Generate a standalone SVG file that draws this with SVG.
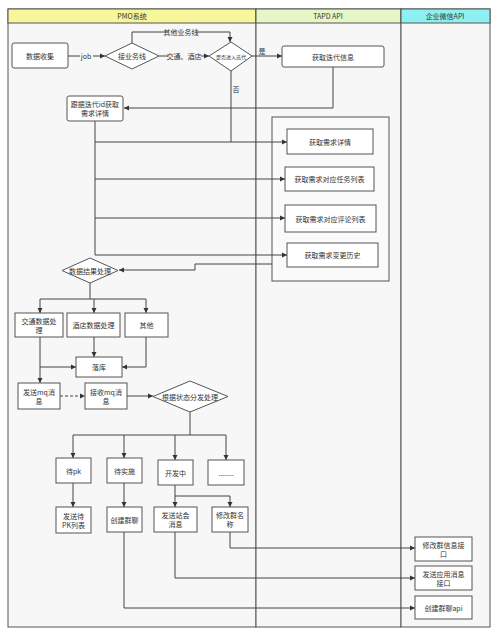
<svg xmlns="http://www.w3.org/2000/svg" width="499" height="637" viewBox="0 0 499 637">
<defs>
<marker id="ah" markerWidth="6" markerHeight="6" refX="5" refY="3" orient="auto" markerUnits="userSpaceOnUse">
<path d="M0,0.5 L5,3 L0,5.5 z" fill="#333"/>
</marker>
<style>
.lane{fill:#f7f7f7;stroke:#555;stroke-width:1}
.hdr{stroke:#555;stroke-width:1}
.box{fill:#fff;stroke:#555;stroke-width:1}
.t{font-family:"Noto Sans CJK SC","Liberation Sans",sans-serif;font-size:7px;fill:#333;text-anchor:middle;dominant-baseline:central}
.c{fill:none;stroke:#444;stroke-width:1}
.a{marker-end:url(#ah)}
</style>
</defs>
<rect x="0" y="0" width="499" height="637" fill="#fff"/>
<g id="lanes">
<rect class="lane" x="8" y="9" width="248" height="618"/>
<rect class="hdr" x="8" y="9" width="248" height="14" fill="#f6f69a"/>
<text class="t" x="132" y="16">PMO系统</text>
<rect class="lane" x="256" y="9" width="145" height="618"/>
<rect class="hdr" x="256" y="9" width="145" height="14" fill="#e7f6c6"/>
<text class="t" x="328" y="16">TAPD API</text>
<rect class="lane" x="401" y="9" width="89" height="618"/>
<rect class="hdr" x="401" y="9" width="89" height="14" fill="#8ef0f0"/>
<text class="t" x="445" y="16">企业微信API</text>
<rect x="272" y="117" width="117" height="164" fill="#fafafa" stroke="#555" stroke-width="1"/>
</g>
<g id="connectors">
<path class="c a" d="M68,56 H105"/>
<path class="c a" d="M159,56 H209"/>
<path class="c a" d="M132,43 V32 H230 V42"/>
<path class="c a" d="M252,56 H282"/>
<path class="c a" d="M333,67 V108 H124"/>
<path class="c" d="M231,71 V142"/>
<path class="c" d="M95,121 V255"/>
<path class="c a" d="M95,142 H287"/>
<path class="c a" d="M95,179 H285"/>
<path class="c a" d="M95,218 H285"/>
<path class="c a" d="M95,255 H287"/>
<path class="c a" d="M272,264 H195 V270 H119"/>
<path class="c" d="M90,283 V299 M40,299 H146"/>
<path class="c a" d="M40,299 V313"/>
<path class="c a" d="M94,299 V313"/>
<path class="c a" d="M146,299 V313"/>
<path class="c a" d="M94,337 V357"/>
<path class="c a" d="M146,337 V367 H122"/>
<path class="c a" d="M40,337 V383"/>
<path class="c a" d="M40,367 H76"/>
<path class="c a" d="M60,396 H85" stroke-dasharray="3,2"/>
<path class="c a" d="M127,396 H153"/>
<path class="c" d="M190,412 V435 M73,435 H226"/>
<path class="c a" d="M73,435 V458"/>
<path class="c a" d="M124,435 V458"/>
<path class="c a" d="M175,435 V460"/>
<path class="c a" d="M226,435 V460"/>
<path class="c a" d="M73,483 V507"/>
<path class="c a" d="M124,483 V507"/>
<path class="c a" d="M175,485 V507"/>
<path class="c a" d="M175,496 H230 V507"/>
<path class="c a" d="M230,532 V548 H415"/>
<path class="c a" d="M175,532 V578 H415"/>
<path class="c a" d="M124,532 V608 H415"/>
<rect x="80" y="52" width="13" height="8" fill="#f7f7f7"/>
<text class="t" x="86" y="56">job</text>
<rect x="166" y="28" width="30" height="8" fill="#f7f7f7"/>
<text class="t" x="181" y="32">其他业务线</text>
<rect x="168" y="52" width="33" height="8" fill="#f7f7f7"/>
<text class="t" x="184" y="56">交通、酒店</text>
<text class="t" x="262" y="51">是</text>
<text class="t" x="236" y="89">否</text>
</g>
<g id="n_collect"><rect class="box" x="12" y="43" width="56" height="25" rx="2"/><text class="t" x="40" y="56">数据收集</text></g>
<g id="n_biz"><path class="box" d="M105,56 L132,43 L159,56 L132,69 Z"/><text class="t" x="132" y="56">接业务线</text></g>
<g id="n_iter"><path class="box" d="M209,56 L231,42 L252,56 L231,71 Z"/><text class="t" x="231" y="56" style="font-size:5px">是否进入迭代</text></g>
<g id="n_iterinfo"><rect class="box" x="282" y="46" width="102" height="21" rx="2"/><text class="t" x="333" y="56.5">获取迭代信息</text></g>
<g id="n_byid"><rect class="box" x="67" y="96" width="56" height="25" rx="2"/><text class="t" x="95" y="104">跟据迭代id获取</text><text class="t" x="95" y="113">需求详情</text></g>
<g id="n_detail"><rect class="box" x="287" y="129" width="86" height="25"/><text class="t" x="330" y="142">获取需求详情</text></g>
<g id="n_task"><rect class="box" x="285" y="167" width="89" height="24"/><text class="t" x="329.5" y="179">获取需求对应任务列表</text></g>
<g id="n_comment"><rect class="box" x="285" y="205" width="91" height="27"/><text class="t" x="330.5" y="219">获取需求对应评论列表</text></g>
<g id="n_history"><rect class="box" x="287" y="243" width="91" height="24"/><text class="t" x="332.5" y="255">获取需求变更历史</text></g>
<g id="n_result"><path class="box" d="M62,270.5 L90,258 L118,270.5 L90,283 Z"/><text class="t" x="90" y="270.5">数据结果处理</text></g>
<g id="n_traffic"><rect class="box" x="15" y="313" width="48" height="24"/><text class="t" x="39" y="321">交通数据处</text><text class="t" x="39" y="330">理</text></g>
<g id="n_hotel"><rect class="box" x="67" y="313" width="53" height="24"/><text class="t" x="93.5" y="325">酒店数据处理</text></g>
<g id="n_other"><rect class="box" x="125" y="313" width="43" height="24"/><text class="t" x="146.5" y="325">其他</text></g>
<g id="n_store"><rect class="box" x="76" y="357" width="46" height="20"/><text class="t" x="99" y="367">落库</text></g>
<g id="n_sendmq"><rect class="box" x="18" y="383" width="42" height="26"/><text class="t" x="39" y="392">发送mq消</text><text class="t" x="39" y="401">息</text></g>
<g id="n_recvmq"><rect class="box" x="85" y="383" width="42" height="26"/><text class="t" x="106" y="392">接收mq消</text><text class="t" x="106" y="401">息</text></g>
<g id="n_dispatch"><path class="box" d="M153,396.5 L190,381 L228,396.5 L190,412 Z"/><text class="t" x="190" y="396.5">根据状态分发处理</text></g>
<g id="n_pk"><rect class="box" x="56" y="458" width="35" height="25"/><text class="t" x="73.5" y="470.5">待pk</text></g>
<g id="n_impl"><rect class="box" x="107" y="458" width="35" height="25"/><text class="t" x="124.5" y="470.5">待实施</text></g>
<g id="n_dev"><rect class="box" x="158" y="460" width="35" height="25"/><text class="t" x="175.5" y="472.5">开发中</text></g>
<g id="n_more"><rect class="box" x="208" y="460" width="36" height="25"/><text class="t" x="226" y="473">........</text></g>
<g id="n_pklist"><rect class="box" x="56" y="507" width="35" height="26"/><text class="t" x="73.5" y="516">发送待</text><text class="t" x="73.5" y="525">PK列表</text></g>
<g id="n_group"><rect class="box" x="107" y="507" width="35" height="25"/><text class="t" x="124.5" y="519.5">创建群聊</text></g>
<g id="n_standup"><rect class="box" x="154" y="507" width="43" height="25"/><text class="t" x="175.5" y="515">发送站会</text><text class="t" x="175.5" y="524">消息</text></g>
<g id="n_rename"><rect class="box" x="212" y="507" width="36" height="25"/><text class="t" x="230" y="515">修改群名</text><text class="t" x="230" y="524">称</text></g>
<g id="n_wx_modify"><rect class="box" x="415" y="537" width="57" height="24"/><text class="t" x="443.5" y="545">修改群信息接</text><text class="t" x="443.5" y="554">口</text></g>
<g id="n_wx_send"><rect class="box" x="415" y="566" width="57" height="24"/><text class="t" x="443.5" y="574">发送应用消息</text><text class="t" x="443.5" y="583">接口</text></g>
<g id="n_wx_create"><rect class="box" x="415" y="596" width="57" height="23"/><text class="t" x="443.5" y="607.5">创建群聊api</text></g>
</svg>
